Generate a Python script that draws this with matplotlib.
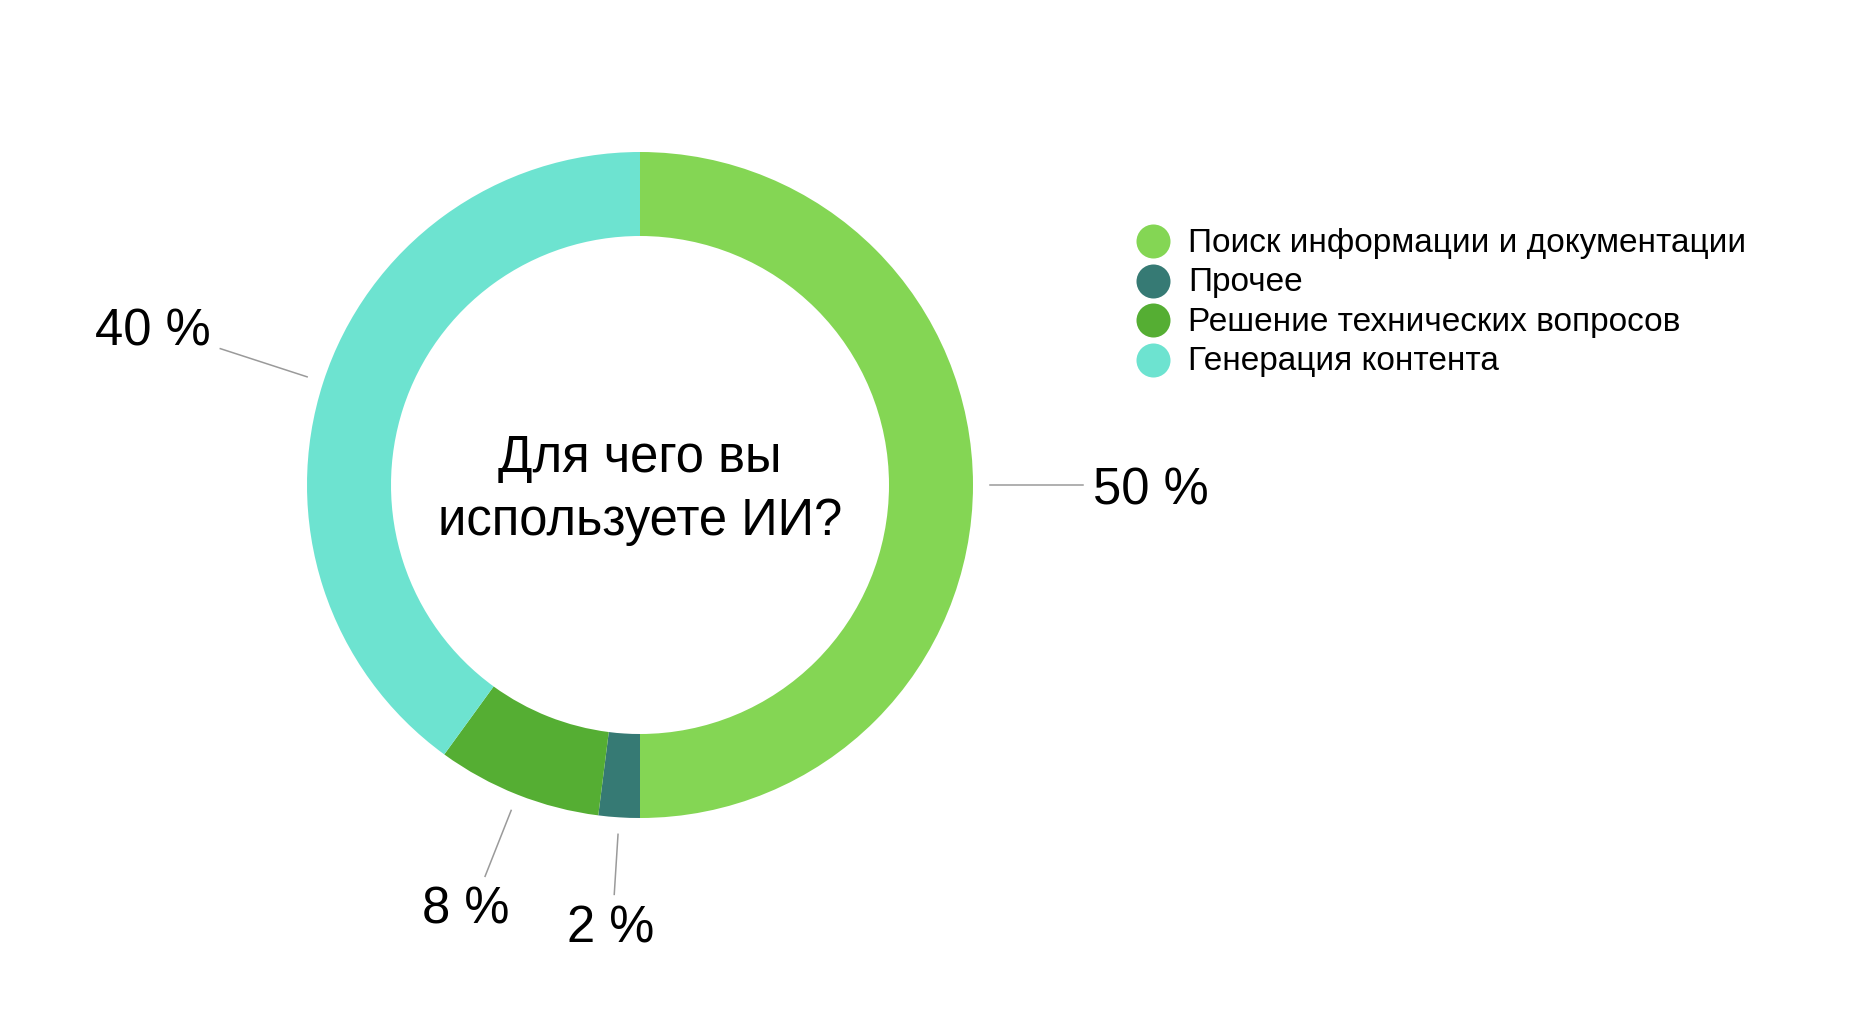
"""Donut chart: what respondents use AI for."""
import numpy as np
import matplotlib.pyplot as plt

plt.rcParams["font.family"] = ["Liberation Sans", "DejaVu Sans"]

categories = [
    "Поиск информации и документации",
    "Прочее",
    "Решение технических вопросов",
    "Генерация контента",
]
shares = [50, 2, 8, 40]
colors = ["#84D654", "#367A74", "#55AE33", "#6DE3D0"]
center_title = "Для чего вы\nиспользуете ИИ?"

W, H = 1858, 1036
cx, cy = 640, H - 485
R = 333
ring = 84

fig = plt.figure(figsize=(W / 100, H / 100), dpi=100)
ax = fig.add_axes([0, 0, 1, 1])

wedges, _ = ax.pie(
    shares, colors=colors, startangle=90, counterclock=False,
    center=(cx, cy), radius=R,
    wedgeprops=dict(width=ring, linewidth=0),
)
ax.set_xlim(0, W)
ax.set_ylim(0, H)
ax.set_aspect("equal")
ax.axis("off")

ax.text(cx, cy - 5, center_title, ha="center", va="center",
        fontsize=36.5, linespacing=1.38)

# percentage labels with leader lines
r0, gap = R + 17, 10
for w, val in zip(wedges, shares):
    ang = np.deg2rad((w.theta1 + w.theta2) / 2)
    c, s = np.cos(ang), np.sin(ang)
    r1 = R + 75 + 35 * abs(c)
    ax.plot([cx + r0 * c, cx + r1 * c], [cy + r0 * s, cy + r1 * s],
            color="#9a9a9a", lw=1.1)
    tx, ty = cx + (r1 + gap) * c, cy + (r1 + gap) * s
    if c > 0.5:
        ha = "left"
    elif c < -0.5:
        ha = "right"
    else:
        ha = "center"
        tx += 43 * c
    va = "baseline" if s > 0.25 else ("top" if s < -0.5 else "center_baseline")
    ax.text(tx, ty, f"{val} %", ha=ha, va=va, fontsize=36.5)

# legend
lx, ly, step = 1153, H - 241, 39.5
for i, (name, col) in enumerate(zip(categories, colors)):
    y = ly - i * step
    ax.scatter([lx], [y], s=600, color=col, linewidths=0)
    ax.text(lx + 35, y - 2, name, ha="left", va="center", fontsize=24)

fig.savefig("out.png", dpi=100)
